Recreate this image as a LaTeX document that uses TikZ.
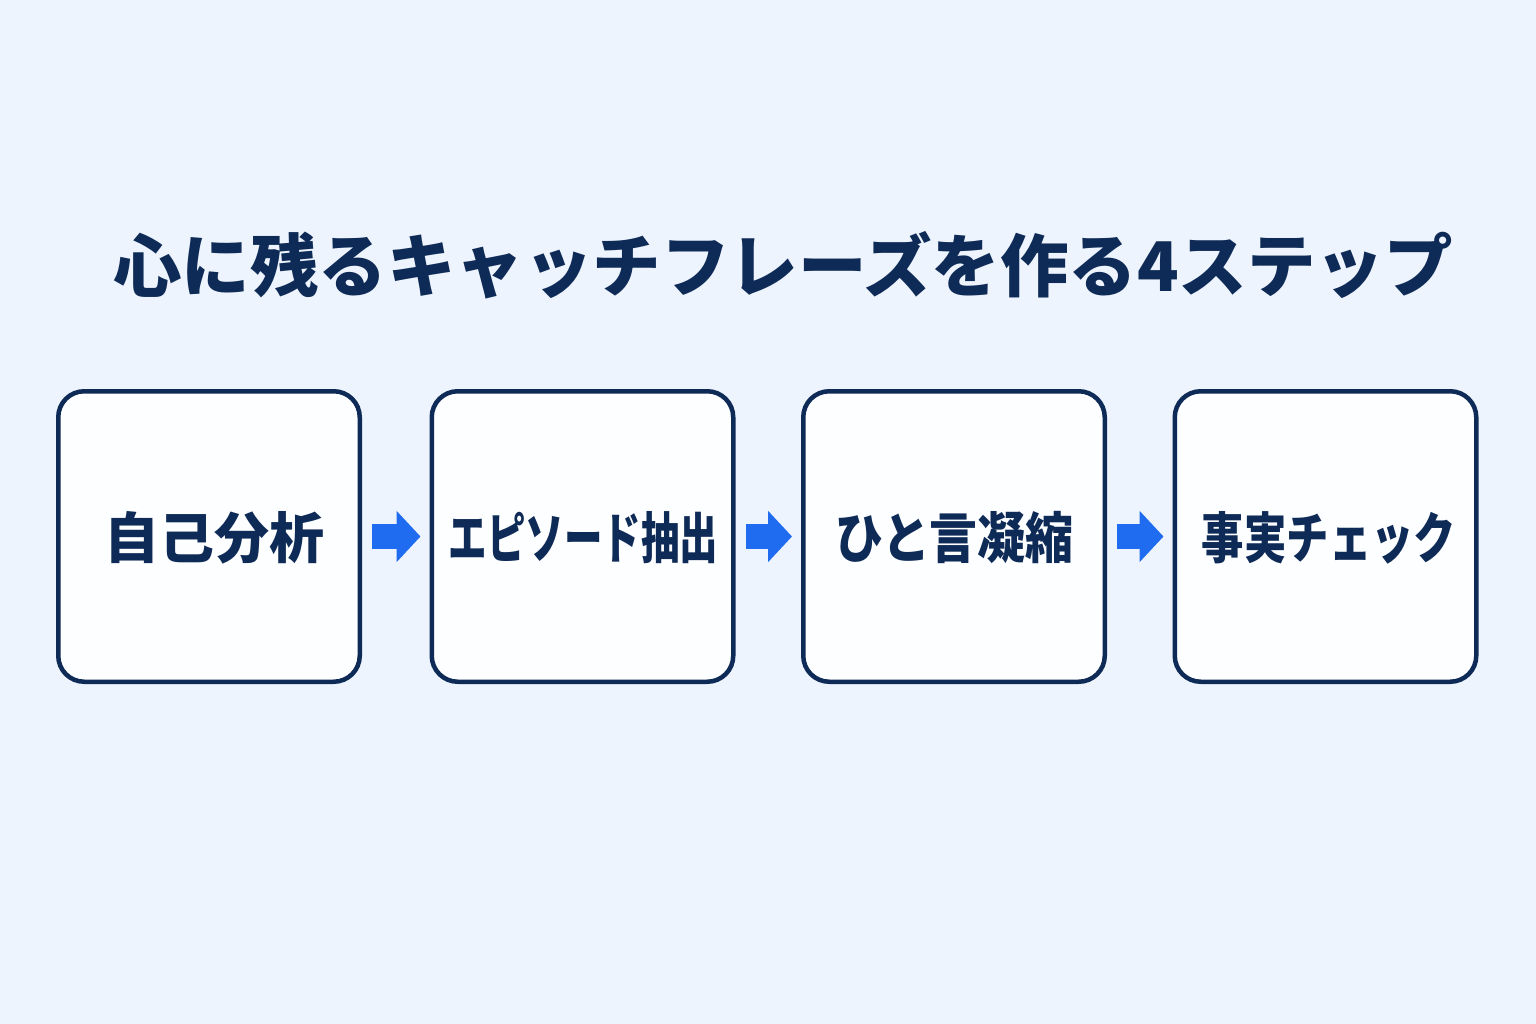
\documentclass[tikz,border=0pt]{standalone}
\usepackage{fontspec}
\setmainfont{Noto Sans CJK JP}
\usetikzlibrary{arrows.meta}
\definecolor{bgc}{HTML}{EEF4FD}
\definecolor{navy}{HTML}{0E2A56}
\definecolor{arrowblue}{HTML}{1F6CF0}
\definecolor{boxfill}{HTML}{FDFEFF}
\tikzset{
  stepbox/.style={draw=navy, line width=4.5pt, fill=boxfill, rounded corners=26pt,
    minimum width=301.5pt, minimum height=290.5pt, inner sep=0pt},
  steptext/.style={text=navy, font=\bfseries\fontsize{55}{60}\selectfont, inner sep=0pt},
  conn/.style={draw=arrowblue, line width=25pt,
    -{Triangle[length=24pt,width=50pt,fill=arrowblue]},
    shorten <=10pt, shorten >=9pt}
}
\begin{document}
\begin{tikzpicture}[x=1pt,y=-1pt]
\fill[bgc] (0,0) rectangle (1536,1024);
\useasboundingbox (0,0) rectangle (1536,1024);
\node[text=navy, font=\bfseries\fontsize{68.5}{72}\selectfont, inner sep=0pt] (title) at (783,265) {心に残るキャッチフレーズを作る4ステップ};
\node[stepbox] (b1) at (209,536.5) {};
\node[stepbox] (b2) at (582.5,536.5) {};
\node[stepbox] (b3) at (954,536.5) {};
\node[stepbox] (b4) at (1325.5,536.5) {};
\node[steptext] (t1) at (214.5,538) {自己分析};
\node[steptext, xscale=0.70] (t2) at (583.5,538) {エピソード抽出};
\node[steptext, xscale=0.87] (t3) at (954.5,538) {ひと言凝縮};
\node[steptext, xscale=0.77] (t4) at (1329,538) {事実チェック};
\draw[conn] (b1) -- (b2);
\draw[conn] (b2) -- (b3);
\draw[conn] (b3) -- (b4);
\end{tikzpicture}
\end{document}
